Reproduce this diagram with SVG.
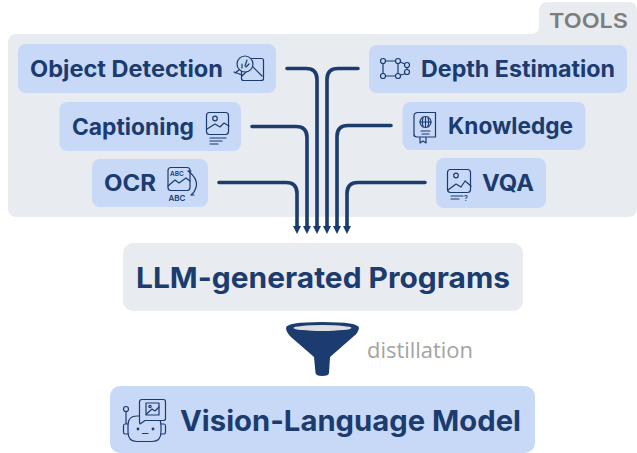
<svg xmlns="http://www.w3.org/2000/svg" width="637" height="453" viewBox="0 0 637 453">
<style>
.n{fill:#c7d9f6}
.t{font-family:"Inter","Open Sans",sans-serif;font-weight:650;fill:#1c3b6e}
.c{fill:none;stroke:#1c3b6e;stroke-width:3.600;stroke-linecap:round}
.i{fill:none;stroke:#1c3b6e;stroke-width:1.200;stroke-linecap:round;stroke-linejoin:round}
.a{fill:#1c3b6e}
</style>
<g id="tools-panel">
<path d="M548 2H628Q637 2 637 11V208Q637 217 628 217H17Q8 217 8 208V43Q8 34 17 34H531Q539 34 539 26V11Q539 2 548 2Z" fill="#e8ebf0"/>
<text x="549" y="28" font-family="Inter,sans-serif" font-size="20.500" font-weight="600" fill="#7d7d7d" textLength="79" lengthAdjust="spacingAndGlyphs">TOOLS</text>
</g>
<g id="connectors">
<path class="c" d="M287 68.500H306Q317 68.500 317 79.500V226"/>
<path class="c" d="M252 126.500H296Q307 126.500 307 137.500V226"/>
<path class="c" d="M219 182.500H286Q297 182.500 297 193.500V226"/>
<path class="c" d="M358 68.500H338Q327 68.500 327 79.500V226"/>
<path class="c" d="M391 125.500H348Q337 125.500 337 136.500V226"/>
<path class="c" d="M425 182.500H358Q347 182.500 347 193.500V226"/>
<path class="a" d="M293 226H301L297 234ZM303 226H311L307 234ZM313 226H321L317 234ZM323 226H331L327 234ZM333 226H341L337 234ZM343 226H351L347 234Z"/>
</g>
<g id="object-detection">
<rect class="n" x="18" y="44" width="258" height="49" rx="8"/>
<text class="t" x="30" y="77" font-size="22.500" textLength="193" lengthAdjust="spacingAndGlyphs">Object Detection</text>
<g class="i"><rect x="241.500" y="58.500" width="22" height="22" rx="2"/><path d="M242 76L252 66L262 76"/><circle cx="245" cy="64" r="8" fill="#c7d9f6"/><path d="M239 70L235 73M234 72L242 75M242 64V68M247 60L245 66M249 64L246 67"/></g>
</g>
<g id="captioning">
<rect class="n" x="59.500" y="102" width="181.500" height="49" rx="8"/>
<text class="t" x="72" y="135" font-size="22.500" textLength="122" lengthAdjust="spacingAndGlyphs">Captioning</text>
<g class="i"><rect x="206.500" y="112.500" width="22" height="22" rx="3"/><circle cx="215" cy="118.500" r="2.300"/><path d="M207 129L215 124L220 127L224 123L229 126M210 138H226M210 141H222M210 144H218"/></g>
</g>
<g id="ocr">
<rect class="n" x="92" y="159" width="116" height="48" rx="8"/>
<text class="t" x="104" y="191" font-size="22.500" textLength="52" lengthAdjust="spacingAndGlyphs">OCR</text>
<g class="i"><rect x="168" y="167.500" width="22" height="23" rx="3"/><path d="M168 186L175 180L179 183L186 178L190 181M188 171Q200 180 195 190Q194 193 191 195M191 171L188 171M191 195L194 195"/></g>
<text x="170" y="176" font-family="Inter,sans-serif" font-size="6.500" font-weight="600" fill="#1c3b6e">ABC</text>
<text x="168.500" y="201" font-family="Inter,sans-serif" font-size="8" font-weight="600" fill="#1c3b6e">ABC</text>
</g>
<g id="depth-estimation">
<rect class="n" x="369" y="45" width="258" height="48" rx="8"/>
<text class="t" x="421" y="77" font-size="22.500" textLength="194" lengthAdjust="spacingAndGlyphs">Depth Estimation</text>
<g class="i"><path d="M383 61H398M383 76H398M383 61V76M398 61L407 65M398 76L407 73M407 65V73M398 61V76"/><g fill="#c7d9f6"><circle cx="383" cy="61" r="2.500"/><circle cx="398" cy="61" r="2.500"/><circle cx="383" cy="76" r="2.500"/><circle cx="398" cy="76" r="2.500"/><circle cx="407" cy="65" r="2.500"/><circle cx="407" cy="72" r="2.500"/></g></g>
</g>
<g id="knowledge">
<rect class="n" x="402.500" y="102" width="183" height="48" rx="8"/>
<text class="t" x="448" y="134" font-size="22.500" textLength="125" lengthAdjust="spacingAndGlyphs">Knowledge</text>
<g class="i"><path d="M414 136V116Q414 112.500 418 112.500H435.500V137H417Q414 137 414 134M420 137V143L423 141L426 143V137"/><circle cx="425.500" cy="122" r="5.500"/><path d="M420 122H431M425.500 116.500V127.500M423 117Q421.500 122 423 127M428 117Q429.500 122 428 127M421 131H430M422 134H429"/></g>
</g>
<g id="vqa">
<rect class="n" x="436" y="158" width="110" height="50" rx="8"/>
<text class="t" x="482" y="191" font-size="22.500" textLength="52" lengthAdjust="spacingAndGlyphs">VQA</text>
<g class="i"><rect x="447.500" y="169.500" width="23" height="23" rx="3"/><circle cx="456" cy="175.500" r="2.300"/><path d="M448 190L456 184L461 187L465 181L471 186M451 196H463M451 199H459"/></g>
<text x="464" y="201" font-family="Inter,sans-serif" font-size="7" font-weight="600" fill="#1c3b6e">?</text>
</g>
<g id="llm-programs">
<rect x="123" y="243" width="400" height="68" rx="10" fill="#e8ebf0"/>
<text class="t" x="136" y="288" font-size="29" textLength="374" lengthAdjust="spacingAndGlyphs">LLM-generated Programs</text>
</g>
<g id="funnel">
<path class="a" d="M286 328Q286 322 322 322Q359 322 359 328Q358 333 354 336L330 357L329 373Q329 376 322 376Q316 376 315.500 373L314 357L291 337Q286 332 286 328Z"/>
<ellipse cx="322.500" cy="328" rx="29" ry="3" fill="#dcdee2"/>
<text x="367" y="358" font-family="'Open Sans',sans-serif" font-size="21" fill="#a3a3a3" textLength="106" lengthAdjust="spacingAndGlyphs">distillation</text>
</g>
<g id="vision-language-model">
<rect class="n" x="110" y="386" width="425" height="67" rx="10"/>
<text class="t" x="180" y="431" font-size="29" textLength="341" lengthAdjust="spacingAndGlyphs">Vision-Language Model</text>
<g class="i">
<path d="M128 425Q128 416 137 416H152Q161 416 161 425V432Q161 441.500 152 441.500H137Q128 441.500 128 432Z"/>
<path d="M139.500 422V402Q139.500 399.500 142 399.500H163.500Q165.500 399.500 165.500 402V418.500Q165.500 420.500 163.500 420.500H145L140 424Z" fill="#c7d9f6"/>
<rect x="146" y="403" width="13" height="12"/><circle cx="150" cy="406.500" r="1.200"/><path d="M146.500 414L152 409L155 411L159 407"/>
<path d="M128 424H125Q123.500 424 123.500 426V432Q123.500 434 125 434H128M161 424H164Q165.500 424 165.500 426V432Q165.500 434 164 434H161M126 424V412"/>
<circle cx="126" cy="409" r="2.500"/><circle cx="138" cy="429" r=".8" class="a"/><circle cx="153" cy="429" r=".8" class="a"/><path d="M142.500 433.500H148"/></g>
</g>
</svg>
